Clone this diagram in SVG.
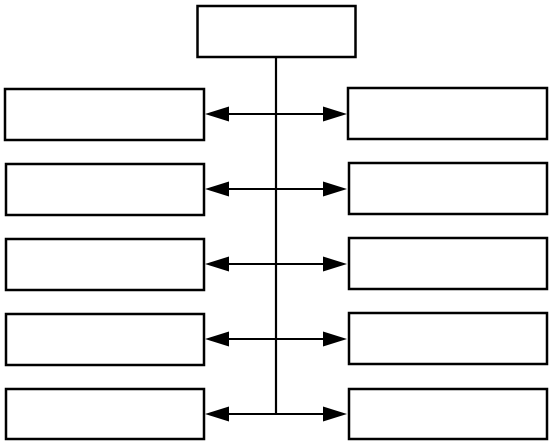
<svg xmlns="http://www.w3.org/2000/svg" width="552" height="443" viewBox="0 0 552 443">
<style>
.box{fill:#fff;stroke:#000;stroke-width:2.5}
.ln{stroke:#000;stroke-width:2.2;fill:none}
.ah{fill:#000}
</style>
<rect width="552" height="443" fill="#fff"/>
<g id="connectors">
<path class="ln" d="M276 57 V414"/>
<path class="ln" d="M228 114 H324 M228 189 H324 M228 264 H324 M228 339 H324 M228 414 H324"/>
<g class="ah">
<polygon points="205,114 229,106.5 229,121.5"/>
<polygon points="347,114 323,106.5 323,121.5"/>
<polygon points="205,189 229,181.5 229,196.5"/>
<polygon points="347,189 323,181.5 323,196.5"/>
<polygon points="205,264 229,256.5 229,271.5"/>
<polygon points="347,264 323,256.5 323,271.5"/>
<polygon points="205,339 229,331.5 229,346.5"/>
<polygon points="347,339 323,331.5 323,346.5"/>
<polygon points="205,414 229,406.5 229,421.5"/>
<polygon points="347,414 323,406.5 323,421.5"/>
</g>
</g>
<g id="top"><rect class="box" x="197.5" y="6" width="158" height="51"/></g>
<g id="l1"><rect class="box" x="5" y="89" width="199" height="51"/></g>
<g id="l2"><rect class="box" x="6" y="164" width="198" height="51"/></g>
<g id="l3"><rect class="box" x="6" y="239" width="198" height="51"/></g>
<g id="l4"><rect class="box" x="6" y="314" width="198" height="51"/></g>
<g id="l5"><rect class="box" x="6" y="389" width="198" height="50"/></g>
<g id="r1"><rect class="box" x="348" y="88" width="199" height="51"/></g>
<g id="r2"><rect class="box" x="349" y="163" width="198" height="51"/></g>
<g id="r3"><rect class="box" x="349" y="238" width="198" height="51"/></g>
<g id="r4"><rect class="box" x="349" y="313" width="198" height="51"/></g>
<g id="r5"><rect class="box" x="349" y="389" width="198" height="50"/></g>
</svg>
